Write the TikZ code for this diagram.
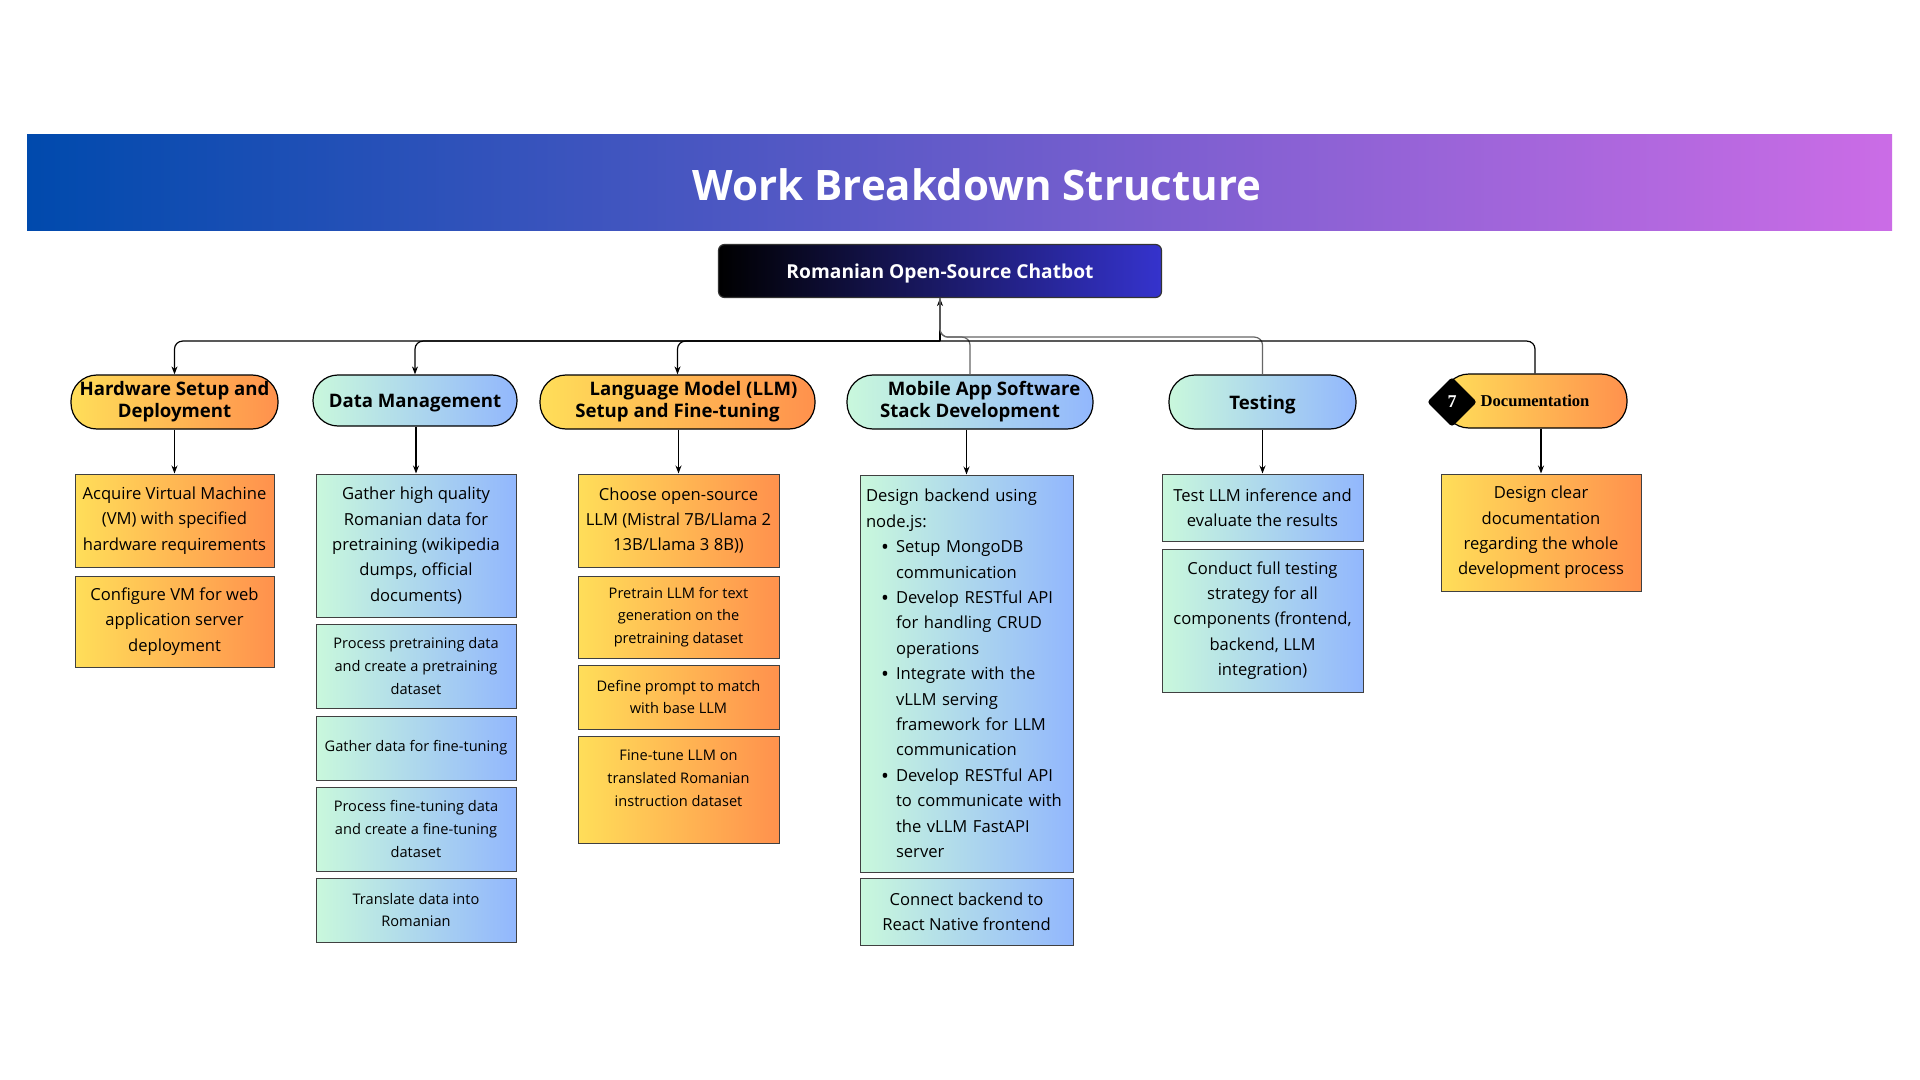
\documentclass[tikz,border=0pt]{standalone}
\usepackage{fontspec}
\setmainfont{Open Sans}
\newfontfamily\headfont{Open Sans}
\newfontfamily\serifhead{Liberation Serif}
\usetikzlibrary{arrows.meta,shapes.geometric,positioning}
\definecolor{bandL}{HTML}{004AAD}
\definecolor{bandR}{HTML}{CB6CE6}
\definecolor{rootR}{HTML}{3533CD}
\definecolor{warmL}{HTML}{FFDE59}
\definecolor{warmR}{HTML}{FF914D}
\definecolor{coolL}{HTML}{C9F8DC}
\definecolor{coolR}{HTML}{92B7FD}
\newcommand{\bigtxt}{\fontsize{8.3}{12.7}\selectfont}
\newcommand{\smalltxt}{\fontsize{7.3}{11.3}\selectfont}
\newcommand{\dotmark}{\raisebox{-0.9pt}{\fontsize{10.5}{11}\selectfont\textbullet}}
\begin{document}
\begin{tikzpicture}[x=0.5pt,y=-0.5pt,
  phase/.style={draw=black,line width=0.6pt,rounded corners=13pt,minimum height=27pt,inner sep=1pt,align=center,
    font=\headfont\bfseries\fontsize{9.3}{11}\selectfont},
  warm/.style={left color=warmL,right color=warmR},
  cool/.style={left color=coolL,right color=coolR},
  task/.style={draw=black!75,line width=0.5pt,inner sep=2pt,align=center,font=\bigtxt},
  small/.style={font=\smalltxt},
  link/.style={line width=0.6pt,rounded corners=4pt},
  tip/.style={-{Stealth[length=4pt,width=3pt]}}]
\useasboundingbox (0,0) rectangle (1920,1080);
\fill[white] (0,0) rectangle (1920,1080);
\fill[left color=bandL,right color=bandR] (27,135) rectangle (1892,231);
\node[text=white,font=\headfont\bfseries\fontsize{21}{25}\selectfont] (title) at (977,185) {Work Breakdown Structure};

\node[draw=black!80,line width=0.6pt,rounded corners=3pt,left color=black,right color=rootR,text=white,text depth=0pt,
  minimum width=221.5pt,minimum height=26.5pt,font=\headfont\bfseries\fontsize{9.6}{11}\selectfont] (root) at (940,271) {Romanian Open-Source Chatbot};

\node[phase,warm,minimum width=103.5pt] (hw) at (174.5,402) {Hardware Setup and\\Deployment};
\node[phase,cool,minimum width=102pt,minimum height=25.5pt,rounded corners=12.5pt,text depth=0pt] (data) at (415,400.5) {Data Management};
\node[phase,warm,minimum width=137.5pt] (llm) at (677.5,402) {\hspace*{16pt}Language Model (LLM)\\Setup and Fine-tuning};
\node[phase,cool,minimum width=123pt] (mob) at (970,402) {\hspace*{14pt}Mobile App Software\\Stack Development};
\node[phase,cool,minimum width=93.5pt,text depth=0pt] (test) at (1262.5,402) {Testing};
\node[phase,warm,minimum width=92pt,font=\serifhead\bfseries\fontsize{8.3}{10}\selectfont] (doc) at (1535,401) {Documentation};
\node[diamond,fill=black,rounded corners=1.5pt,minimum width=25pt,minimum height=25pt,inner sep=0pt,text=white,
  font=\serifhead\bfseries\fontsize{9}{10}\selectfont] (seven) at (1452,402) {7};

\node[task,warm,minimum width=99.5pt,minimum height=46.5pt] (hw1) at (174.5,520.5) {Acquire Virtual Machine\\(VM) with specified\\hardware requirements};
\node[task,warm,minimum width=99.5pt,minimum height=45.5pt] (hw2) at (174.5,621.5) {Configure VM for web\\application server\\deployment};

\node[task,cool,minimum width=100pt,minimum height=71.5pt] (data1) at (416,545.5) {Gather high quality\\Romanian data for\\pretraining (wikipedia\\dumps, official\\documents)};
\node[task,cool,small,minimum width=100pt,minimum height=42pt] (data2) at (416,666) {Process pretraining data\\and create a pretraining\\dataset};
\node[task,cool,small,minimum width=100pt,minimum height=32pt] (data3) at (416,748) {Gather data for fine-tuning};
\node[task,cool,small,minimum width=100pt,minimum height=42pt] (data4) at (416,829) {Process fine-tuning data\\and create a fine-tuning\\dataset};
\node[task,cool,small,minimum width=100pt,minimum height=32pt] (data5) at (416,910) {Translate data into\\Romanian};

\node[task,warm,minimum width=100.5pt,minimum height=46.5pt] (llm1) at (678.5,520.5) {Choose open-source\\LLM (Mistral 7B/Llama 2\\13B/Llama 3 8B))};
\node[task,warm,small,minimum width=100.5pt,minimum height=41pt] (llm2) at (678.5,617) {Pretrain LLM for text\\generation on the\\pretraining dataset};
\node[task,warm,small,minimum width=100.5pt,minimum height=32pt] (llm3) at (678.5,697) {Define prompt to match\\with base LLM};
\node[task,warm,small,minimum width=100.5pt,minimum height=53.5pt] (llm4) at (678.5,789.5) {Fine-tune LLM on\\translated Romanian\\instruction dataset\\\mbox{}};

\node[task,cool,minimum width=106.5pt,minimum height=198.5pt,text width=100.5pt,inner sep=3pt,align=left] (mob1) at (966.5,673.5) {Design backend using\\node.js:
  \begin{list}{\dotmark}{\leftmargin=15pt\labelwidth=4pt\labelsep=3.5pt\itemsep=0pt\topsep=0pt\parsep=0pt\partopsep=0pt}
  \item Setup MongoDB\\communication
  \item Develop RESTful API\\for handling CRUD\\operations
  \item Integrate with the\\vLLM serving\\framework for LLM\\communication
  \item Develop RESTful API\\to communicate with\\the vLLM FastAPI\\server
  \end{list}};
\node[task,cool,minimum width=106.5pt,minimum height=33.5pt] (mob2) at (966.5,911.5) {Connect backend to\\React Native frontend};

\node[task,cool,minimum width=100.5pt,minimum height=33.5pt] (test1) at (1262.5,507.5) {Test LLM inference and\\evaluate the results};
\node[task,cool,minimum width=100.5pt,minimum height=71.5pt] (test2) at (1262.5,620.5) {Conduct full testing\\strategy for all\\components (frontend,\\backend, LLM\\integration)};

\node[task,warm,minimum width=100pt,minimum height=58.5pt] (doc1) at (1541,532.5) {Design clear\\documentation\\regarding the whole\\development process};

\path (root.south) ++(0,43) coordinate (busL) ++(0,-4) coordinate (busR);
\draw[link,tip] (busL) -- (root.south);
\foreach \n in {hw,data,llm}
  \draw[link,tip] (busL) -| (\n.north);
\foreach \n in {mob,test}
  \draw[link,black!60] (\n.north) |- (busR) -- (root.south);
\draw[link] (doc.north) |- (busL);
\foreach \a/\b in {hw/hw1,data/data1,llm/llm1,mob/mob1,test/test1,doc/doc1}
  \draw[line width=0.6pt,tip] (\b.north |- \a.south) -- (\b.north);
\end{tikzpicture}
\end{document}
